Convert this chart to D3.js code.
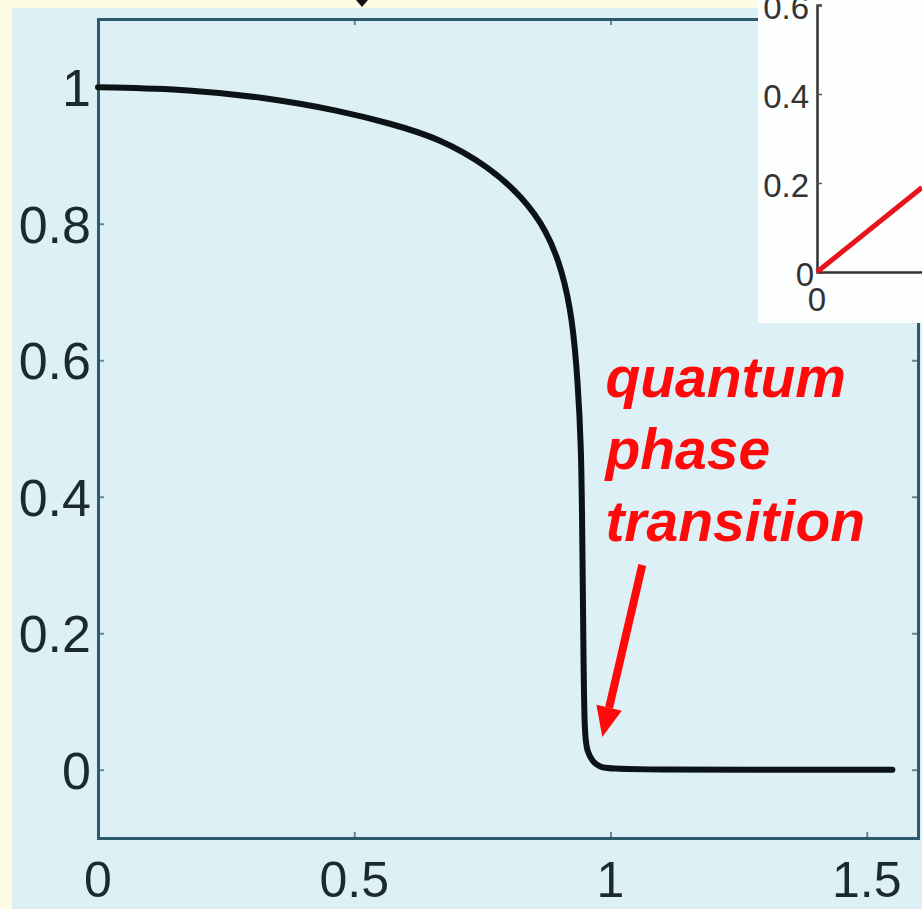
<!DOCTYPE html>
<html>
<head>
<meta charset="utf-8">
<script src="https://cdn.jsdelivr.net/npm/d3@7"></script>
<style>
  body { margin: 0; background: #fdfde4; }
  svg { display: block; }
</style>
</head>
<body>
<script>
// main curve (order parameter vs coupling)
var curveX = [0, 0.18, 0.335, 0.47, 0.57, 0.667, 0.764, 0.828, 0.875, 0.906, 0.926, 0.936, 0.943, 0.945, 0.947, 0.949, 0.955, 0.965, 0.979, 1.02, 1.55];
var curveY = [1.0, 0.997, 0.984, 0.966, 0.947, 0.925, 0.883, 0.839, 0.791, 0.732, 0.659, 0.571, 0.473, 0.337, 0.19, 0.048, 0.026, 0.012, 0.003, 0, 0];
var xTicks = [0, 0.5, 1, 1.5];
var yTicks = [0, 0.2, 0.4, 0.6, 0.8, 1];
var xLabels = ["0", "0.5", "1", "1.5"];
var yLabels = ["0", "0.2", "0.4", "0.6", "0.8", "1"];

// inset
var insetX = [0, 0.2];
var insetY = [0, 0.19];
var insetYTicks = [0, 0.2, 0.4, 0.6];
var insetYLabels = ["0", "0.2", "0.4", "0.6"];

var annotation = ["quantum", "phase", "transition"];

var W = 922, H = 909;
var frameColor = "#2e5b6b";
var labelColor = "#1b2a31";

var svg = d3.select("body").append("svg")
    .attr("width", W)
    .attr("height", H);

// light blue panel
svg.append("rect").attr("x", 12).attr("y", 8).attr("width", W - 12).attr("height", H - 8).attr("fill", "#dcf0f5");

var x = d3.scaleLinear().domain([0, 1.6]).range([98, 918]);
var y = d3.scaleLinear().domain([-0.1, 1.1]).range([838, 19]);

var chart = svg.append("g");

// box with mirrored ticks
chart.append("g").attr("transform", `translate(0, ${y(-0.1)})`)
    .call(d3.axisBottom(x).tickValues(xTicks).tickSize(-6).tickFormat(""));
chart.append("g").attr("transform", `translate(0, ${y(1.1)})`)
    .call(d3.axisTop(x).tickValues(xTicks).tickSize(-6).tickFormat(""));
chart.append("g").attr("transform", `translate(${x(0)}, 0)`)
    .call(d3.axisLeft(y).tickValues(yTicks).tickSize(-6).tickFormat(""));
chart.append("g").attr("transform", `translate(${x(1.6)}, 0)`)
    .call(d3.axisRight(y).tickValues(yTicks).tickSize(-6).tickFormat(""));

chart.selectAll(".domain").attr("stroke", frameColor).attr("stroke-width", 3);
chart.selectAll(".tick line").attr("stroke", frameColor).attr("stroke-width", 2).attr("opacity", 0.7);

// tick labels
chart.selectAll(".xlab").data(xTicks).enter().append("text")
    .attr("x", d => x(d))
    .attr("y", 897)
    .attr("text-anchor", "middle")
    .attr("font-family", "Liberation Sans, Arial, sans-serif")
    .attr("font-size", 50)
    .attr("fill", labelColor)
    .text((d, i) => xLabels[i]);

chart.selectAll(".ylab").data(yTicks).enter().append("text")
    .attr("x", 91)
    .attr("y", d => y(d) + 19)
    .attr("text-anchor", "end")
    .attr("font-family", "Liberation Sans, Arial, sans-serif")
    .attr("font-size", 52)
    .attr("fill", labelColor)
    .text((d, i) => yLabels[i]);

// curve
var pts = curveX.map((v, i) => [v, curveY[i]]);
chart.append("path")
    .datum(pts)
    .attr("fill", "none")
    .attr("stroke", "#0b1317")
    .attr("stroke-width", 6)
    .attr("stroke-linecap", "round")
    .attr("d", d3.line().x(d => x(d[0])).y(d => y(d[1])).curve(d3.curveBasis));

// annotation
var ann = chart.append("text")
    .attr("font-family", "Liberation Sans, Arial, sans-serif")
    .attr("font-size", 57)
    .attr("font-weight", "bold")
    .attr("font-style", "italic")
    .attr("fill", "#ff0a0a");
ann.selectAll("tspan").data(annotation).enter().append("tspan")
    .attr("x", x(0.99))
    .attr("y", (d, i) => 397 + i * 72)
    .text(d => d);

// red arrow
var tail = [1.062, 0.30], tip = [0.984, 0.048];
var tx = x(tail[0]), ty = y(tail[1]), px = x(tip[0]), py = y(tip[1]);
var ang = Math.atan2(py - ty, px - tx);
var headLen = 30, headW = 13;
var bx = px - headLen * Math.cos(ang), by = py - headLen * Math.sin(ang);
chart.append("line")
    .attr("x1", tx).attr("y1", ty).attr("x2", bx).attr("y2", by)
    .attr("stroke", "#ff0a0a").attr("stroke-width", 8);
chart.append("path")
    .attr("fill", "#ff0a0a")
    .attr("d", `M${px},${py} L${bx + headW * Math.sin(ang)},${by - headW * Math.cos(ang)} L${bx - headW * Math.sin(ang)},${by + headW * Math.cos(ang)} Z`);

// small black arrow tip cut at the top edge
svg.append("path").attr("fill", "#111").attr("d", "M356,0 L368,0 L362,7 Z");

// inset panel
var inset = svg.append("g");
inset.append("rect").attr("x", 758).attr("y", 0).attr("width", W - 758).attr("height", 323).attr("fill", "#fdfefe");

var ix = d3.scaleLinear().domain([0, 0.2]).range([817, 922]);
var iy = d3.scaleLinear().domain([0, 0.6]).range([272, 5]);

inset.append("g").attr("transform", `translate(${ix(0)}, 0)`)
    .call(d3.axisLeft(iy).tickValues(insetYTicks).tickSize(-5).tickFormat(""));
inset.append("g").attr("transform", `translate(0, ${iy(0)})`)
    .call(d3.axisBottom(ix).tickValues([0]).tickSize(0).tickFormat(""));
inset.selectAll(".domain").attr("stroke", "#333").attr("stroke-width", 2.5);
inset.selectAll(".tick line").attr("stroke", "#555").attr("stroke-width", 1.5);

inset.selectAll(".iylab").data(insetYTicks).enter().append("text")
    .attr("x", d => d === 0 ? 814 : 809)
    .attr("y", d => iy(d) + 14)
    .attr("text-anchor", "end")
    .attr("font-family", "Liberation Sans, Arial, sans-serif")
    .attr("font-size", 33)
    .attr("fill", "#333")
    .text((d, i) => insetYLabels[i]);
inset.append("text")
    .attr("x", ix(0))
    .attr("y", 311)
    .attr("text-anchor", "middle")
    .attr("font-family", "Liberation Sans, Arial, sans-serif")
    .attr("font-size", 33)
    .attr("fill", "#333")
    .text("0");

inset.append("path")
    .datum(insetX.map((v, i) => [v, insetY[i]]))
    .attr("fill", "none")
    .attr("stroke", "#e8141b")
    .attr("stroke-width", 5)
    .attr("d", d3.line().x(d => ix(d[0])).y(d => iy(d[1])));
</script>
</body>
</html>
